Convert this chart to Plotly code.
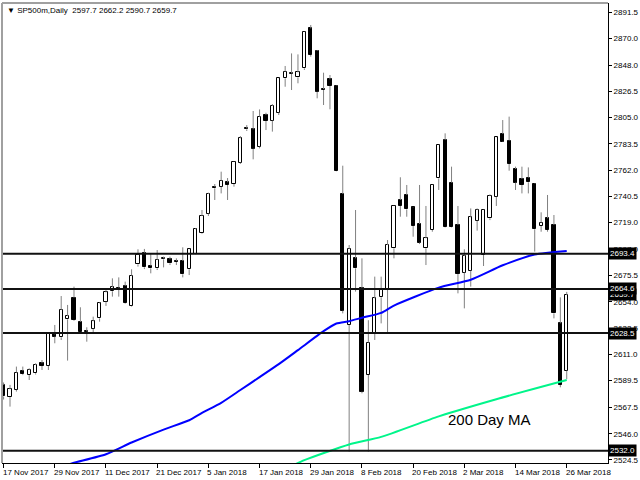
import plotly.graph_objects as go

# ---- data (bar index 0 = 17 Nov 2017, 88 = 26 Mar 2018) ----
opens = [2586.0, 2576.0, 2582.0, 2597.7, 2594.0, 2595.5, 2603.7, 2601.5, 2627.4, 2625.0,
         2639.7, 2657.5, 2637.5, 2630.2, 2632.1, 2640.5, 2654.2, 2662.7, 2665.7, 2667.0,
         2650.7, 2684.8, 2693.8, 2683.7, 2681.5, 2688.9, 2688.9, 2687.5, 2687.5, 2680.7,
         2693.3, 2710.2, 2726.3, 2748.4, 2748.4, 2752.0, 2750.6, 2768.1, 2796.2, 2795.4,
         2781.2, 2807.1, 2802.5, 2809.0, 2837.2, 2841.0, 2838.0, 2845.4, 2878.1, 2859.6,
         2828.4, 2836.3, 2831.2, 2742.4, 2635.1, 2689.7, 2665.1, 2594.1, 2628.3, 2657.8,
         2664.3, 2697.9, 2737.5, 2741.6, 2731.5, 2717.8, 2697.9, 2712.9, 2755.2, 2786.6,
         2751.7, 2717.0, 2678.0, 2679.6, 2720.6, 2692.4, 2722.5, 2740.2, 2791.6, 2786.1,
         2762.9, 2754.7, 2755.8, 2750.6, 2716.2, 2722.5, 2717.0, 2636.4, 2597.7]
highs = [2588.0, 2586.0, 2601.0, 2601.0, 2599.6, 2603.7, 2606.4, 2628.5, 2635.1, 2658.8,
         2651.5, 2666.5, 2649.6, 2633.2, 2641.9, 2653.5, 2663.8, 2673.3, 2674.1, 2670.6,
         2680.7, 2697.1, 2697.4, 2693.8, 2696.5, 2691.1, 2691.1, 2689.7, 2698.7, 2697.5,
         2714.3, 2729.3, 2743.5, 2750.6, 2760.7, 2755.5, 2769.2, 2789.9, 2798.9, 2810.4,
         2811.7, 2809.0, 2816.1, 2837.5, 2847.3, 2857.6, 2856.8, 2875.6, 2880.9, 2860.4,
         2841.8, 2839.9, 2831.5, 2765.6, 2700.6, 2729.3, 2689.7, 2639.0, 2674.7, 2674.7,
         2704.7, 2732.8, 2756.1, 2749.8, 2731.8, 2749.8, 2732.6, 2750.0, 2782.7, 2792.1,
         2764.8, 2732.6, 2697.1, 2730.6, 2730.6, 2729.5, 2742.1, 2789.0, 2803.0, 2805.8,
         2764.8, 2764.8, 2764.2, 2750.9, 2727.4, 2741.6, 2725.2, 2657.7, 2662.2]
lows = [2574.0, 2568.2, 2580.5, 2594.0, 2590.0, 2594.5, 2598.2, 2598.2, 2620.1, 2622.8,
        2605.9, 2638.5, 2628.8, 2621.4, 2627.7, 2637.8, 2650.7, 2658.3, 2658.3, 2652.3,
        2650.2, 2682.9, 2680.9, 2677.4, 2680.1, 2682.3, 2684.2, 2684.2, 2674.1, 2676.0,
        2693.0, 2709.6, 2724.4, 2737.5, 2742.9, 2737.5, 2748.4, 2767.0, 2794.0, 2770.8,
        2779.8, 2794.8, 2793.5, 2807.1, 2830.3, 2827.6, 2833.1, 2844.0, 2854.9, 2820.8,
        2815.3, 2811.8, 2761.0, 2644.6, 2531.3, 2662.4, 2579.1, 2531.3, 2622.8, 2636.4,
        2628.3, 2689.7, 2723.8, 2723.8, 2707.4, 2701.4, 2684.2, 2711.5, 2745.7, 2714.8,
        2714.8, 2661.0, 2648.7, 2666.5, 2712.4, 2683.4, 2721.0, 2732.6, 2785.0, 2761.5,
        2745.7, 2742.9, 2742.9, 2695.2, 2711.5, 2711.5, 2640.5, 2584.0, 2590.7]
closes = [2576.5, 2582.4, 2596.0, 2594.7, 2598.2, 2602.3, 2601.5, 2628.2, 2625.5, 2647.4,
          2642.5, 2639.2, 2629.3, 2629.6, 2638.1, 2652.8, 2661.8, 2665.9, 2664.3, 2652.8,
          2675.5, 2692.4, 2682.3, 2681.5, 2688.3, 2689.7, 2685.6, 2686.7, 2676.6, 2697.1,
          2713.5, 2724.4, 2742.4, 2747.1, 2753.3, 2749.8, 2768.9, 2788.0, 2795.4, 2779.5,
          2805.8, 2802.2, 2814.5, 2837.2, 2842.6, 2841.6, 2842.1, 2875.4, 2856.3, 2826.2,
          2827.6, 2830.9, 2761.2, 2646.8, 2697.4, 2681.5, 2580.5, 2620.6, 2656.9, 2663.8,
          2700.6, 2732.6, 2732.6, 2729.8, 2716.2, 2702.5, 2706.1, 2749.8, 2782.5, 2715.1,
          2715.1, 2676.9, 2691.6, 2723.3, 2729.3, 2729.3, 2740.8, 2788.8, 2785.3, 2767.0,
          2751.7, 2749.8, 2752.0, 2713.5, 2718.9, 2712.9, 2644.6, 2585.9, 2659.7]

# moving averages read at selected bars
ma_blue_idx = [10, 11, 16, 20, 25, 29, 31, 34, 37, 40, 43, 46, 50, 52, 54, 56, 59, 61, 68, 73, 78, 83, 88]
ma_blue_val = [2520.5, 2522.2, 2529.2, 2538.8, 2549.4, 2557.0, 2563.0, 2571.3, 2581.8, 2592.4,
               2603.0, 2614.5, 2630.0, 2636.3, 2638.2, 2641.0, 2645.0, 2651.0, 2665.7, 2672.2,
               2684.0, 2692.8, 2695.7]
ma200_idx = [45, 47, 54, 59, 68, 77, 88]
ma200_val = [2519.5, 2524.3, 2537.2, 2543.4, 2560.2, 2574.3, 2590.0]

levels = [2693.4, 2664.6, 2628.5, 2532.0]
last_price = 2659.7

x_tick_labels = ["17 Nov 2017", "29 Nov 2017", "11 Dec 2017", "21 Dec 2017", "5 Jan 2018",
                 "17 Jan 2018", "29 Jan 2018", "8 Feb 2018", "20 Feb 2018", "2 Mar 2018",
                 "14 Mar 2018", "26 Mar 2018"]
y_tick_labels = ["2891.5", "2870.0", "2848.0", "2826.5", "2805.0", "2783.5", "2762.0", "2740.5",
                 "2719.0", "2697.0", "2675.5", "2654.0", "2632.5", "2611.0", "2589.5", "2567.5",
                 "2546.0", "2524.5"]
title_text = "\u25bc SP500m,Daily  2597.7 2662.2 2590.7 2659.7"
ma_label = "200 Day MA"

# ---- build ----
n = len(opens)
idx = list(range(n))
FONT = "Liberation Sans"

wx, wy = [], []
for i in idx:
    top = max(opens[i], closes[i])
    bot = min(opens[i], closes[i])
    wx += [i, i, None, i, i, None]
    wy += [highs[i], top, None, bot, lows[i], None]

fig = go.Figure()
fig.add_trace(go.Scatter(x=wx, y=wy, mode="lines", line=dict(color="#808080", width=1),
                         hoverinfo="skip", showlegend=False))

up = [i for i in idx if closes[i] >= opens[i]]
dn = [i for i in idx if closes[i] < opens[i]]
for sel, fill in ((up, "white"), (dn, "black")):
    fig.add_trace(go.Bar(
        x=sel,
        base=[min(opens[i], closes[i]) for i in sel],
        y=[max(abs(closes[i] - opens[i]), 0.6) for i in sel],
        width=0.5,
        marker=dict(color=fill, line=dict(color="black", width=1)),
        showlegend=False, hoverinfo="skip"))

fig.add_trace(go.Scatter(x=ma_blue_idx, y=ma_blue_val, mode="lines",
                         line=dict(color="#0000ff", width=2, shape="spline", smoothing=0.6),
                         showlegend=False, hoverinfo="skip"))
fig.add_trace(go.Scatter(x=ma200_idx, y=ma200_val, mode="lines",
                         line=dict(color="#00f58a", width=2, shape="spline", smoothing=0.6),
                         showlegend=False, hoverinfo="skip"))

for lv in levels:
    fig.add_shape(type="line", xref="paper", x0=0, x1=1, y0=lv, y1=lv,
                  line=dict(color="#111111", width=2))

# frame borders (left/top gray)
fig.add_shape(type="line", xref="paper", yref="paper", x0=0, x1=0, y0=0, y1=1,
              line=dict(color="#a0a0a0", width=2))
fig.add_shape(type="line", xref="paper", yref="paper", x0=0, x1=1, y0=1, y1=1,
              line=dict(color="#a0a0a0", width=2))

x_tick_vals = list(range(0, n, 8))
for v, t in zip(x_tick_vals, x_tick_labels):
    fig.add_annotation(x=v, y=0, yref="paper", xref="x", text=t, showarrow=False,
                       xanchor="left", yanchor="top", xshift=-3, yshift=-3,
                       font=dict(family=FONT, size=8, color="black"))

# price boxes on the right axis
box_items = [last_price] + levels
for lv in box_items:
    fig.add_annotation(x=1, xref="paper", y=lv, yref="y", text=f"{lv:.1f}", showarrow=False,
                       xanchor="left", yanchor="middle", xshift=0,
                       bgcolor="black", borderpad=1,
                       font=dict(family=FONT, size=8, color="white"))

fig.add_annotation(x=0, y=1, xref="paper", yref="paper", text=title_text, showarrow=False,
                   xanchor="left", yanchor="top", xshift=3, yshift=-1,
                   font=dict(family=FONT, size=8, color="black"))
fig.add_annotation(x=76, y=2557.5, xref="x", yref="y", text=ma_label, showarrow=False,
                   xanchor="center", yanchor="middle",
                   font=dict(family=FONT, size=15, color="black"))

fig.update_layout(
    width=640, height=480,
    margin=dict(l=2, r=32, t=3, b=17),
    paper_bgcolor="white", plot_bgcolor="white",
    barmode="overlay", bargap=0, showlegend=False,
    xaxis=dict(range=[-0.25, 94.45], showgrid=False, zeroline=False,
               showline=True, linecolor="black", linewidth=1,
               tickmode="array", tickvals=x_tick_vals, ticks="outside", ticklen=4,
               tickcolor="black", showticklabels=False, fixedrange=True),
    yaxis=dict(range=[2522.0, 2898.9], side="right", showgrid=False, zeroline=False,
               showline=True, linecolor="black", linewidth=1,
               tickmode="array", tickvals=[float(t) for t in y_tick_labels], ticktext=y_tick_labels,
               ticks="outside", ticklen=3, tickcolor="black",
               tickfont=dict(family=FONT, size=8, color="black"), fixedrange=True),
)

fig.write_html("out.html", config={"displayModeBar": False},
               post_script="document.body.style.margin='0';document.body.style.overflow='hidden';")
